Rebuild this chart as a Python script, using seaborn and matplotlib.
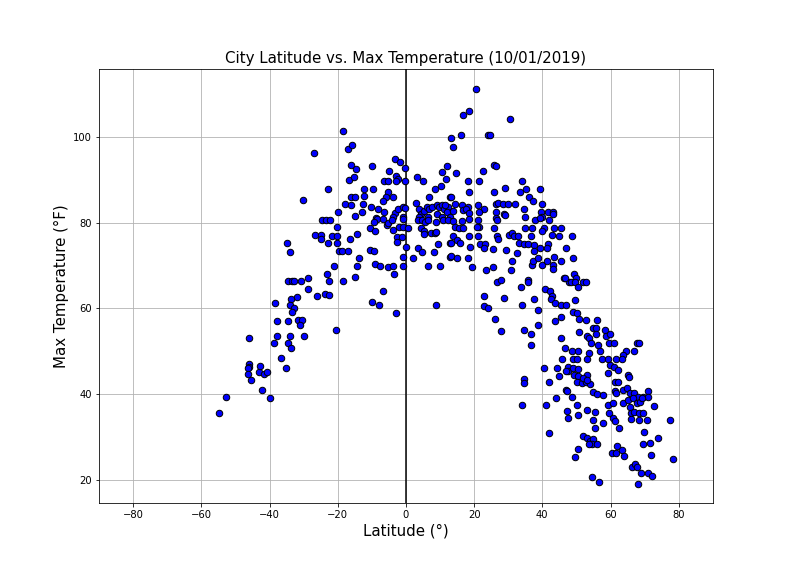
import matplotlib
matplotlib.use("Agg")
import matplotlib.pyplot as plt
import seaborn as sns
import pandas as pd

# (latitude, max temperature °F)
south = [
    (-54.8, 35.6), (-52.7, 39.4),
    (-46.0, 53.1), (-46.0, 47.0), (-46.0, 46.4), (-46.3, 46.1), (-46.3, 44.7), (-45.4, 43.3),
    (-43.1, 45.2), (-42.8, 46.6), (-41.6, 44.7), (-40.7, 45.2), (-42.2, 41.0), (-39.9, 39.1),
    (-38.7, 52.0), (-38.4, 61.3), (-37.8, 57.1), (-37.8, 53.6), (-36.6, 48.5), (-35.2, 46.1),
    (-34.9, 75.3), (-34.0, 73.2), (-34.6, 66.4), (-33.4, 66.4), (-32.8, 66.4), (-30.8, 66.4),
    (-28.7, 67.1), (-28.7, 64.5), (-31.9, 62.7), (-33.7, 62.2), (-26.1, 62.9), (-23.7, 63.4), (-22.6, 63.1),
    (-34.0, 60.8), (-32.8, 60.1), (-33.4, 59.2), (-34.6, 57.1), (-31.6, 57.3), (-30.5, 57.3), (-31.1, 56.2),
    (-34.0, 53.6), (-29.9, 53.6), (-34.6, 52.0), (-33.7, 50.8),
    (-27.0, 96.3), (-22.9, 87.9), (-30.2, 85.3),
    (-24.6, 80.6), (-23.5, 80.6), (-22.3, 80.6),
    (-26.7, 77.1), (-24.9, 77.1), (-24.9, 76.2), (-22.9, 75.3),
    (-23.1, 68.0), (-22.6, 66.4),
    (-18.5, 101.4), (-17.0, 97.2), (-15.8, 98.1), (-16.1, 93.5), (-14.7, 92.5), (-10.0, 93.2),
    (-16.7, 90.0), (-15.2, 90.7),
    (-3.2, 94.9), (-1.8, 94.2), (-0.3, 92.8), (-5.0, 92.1),
    (-2.9, 90.9), (-2.3, 90.2), (-2.9, 89.7), (-6.4, 89.7), (-5.3, 89.7), (-0.3, 89.7),
    (-12.3, 87.9), (-9.7, 87.9), (-5.3, 87.2), (-5.9, 86.0), (-3.8, 86.0), (-12.3, 86.2),
    (-16.1, 86.0), (-14.9, 86.0), (-6.7, 85.1),
    (-17.9, 84.4), (-16.1, 84.1), (-12.6, 84.4), (-10.3, 83.7), (-8.2, 83.2), (-19.9, 82.5),
    (-14.9, 81.6), (-12.9, 82.5), (-8.8, 81.1),
    (-3.2, 82.3), (-2.3, 83.2), (-0.9, 83.7), (-0.3, 83.4), (-6.4, 82.5), (-3.8, 81.3), (-0.9, 81.3),
    (-20.2, 79.0), (-21.7, 76.9), (-20.2, 76.9), (-20.2, 75.3),
    (-19.6, 73.4), (-18.8, 73.4), (-17.0, 73.4), (-16.4, 76.2), (-14.4, 77.4), (-13.8, 71.8),
    (-21.1, 69.9), (-14.4, 69.9), (-14.9, 67.3), (-18.5, 66.4),
    (-10.5, 78.8), (-9.1, 78.1), (-8.5, 80.9), (-9.4, 80.2), (-5.6, 79.5), (-3.8, 78.3),
    (-5.3, 79.9), (-6.7, 80.9), (-4.1, 80.6),
    (-2.0, 79.0), (-0.9, 79.0), (-0.9, 80.9), (-2.6, 76.7), (-1.2, 76.7), (-2.6, 75.5),
    (-10.5, 73.6), (-9.4, 73.4), (-0.9, 72.0), (-9.1, 70.4), (-7.6, 69.9), (-5.3, 69.7),
    (-3.8, 69.9), (-0.9, 69.9), (-3.5, 68.0),
    (-6.7, 64.1), (-10.0, 61.5), (-7.9, 60.8), (-2.9, 58.9), (-20.5, 55.0),
]

north_low = [
    (0.6, 78.8), (0.0, 74.3),
    (3.2, 90.7), (5.0, 89.7), (10.5, 91.8), (12.0, 93.2), (11.7, 90.2),
    (8.5, 87.9), (10.3, 88.6), (12.9, 86.0), (6.7, 86.0),
    (2.9, 84.6), (3.8, 83.2), (4.4, 82.0), (5.3, 82.7), (6.2, 83.7), (6.7, 83.2), (7.6, 83.7),
    (9.1, 84.1), (9.7, 83.7), (10.5, 84.1), (11.1, 83.2), (12.3, 83.7), (12.0, 82.5),
    (6.4, 81.3), (9.1, 82.0), (10.5, 81.3), (3.8, 81.3),
    (20.5, 111.2), (16.7, 105.1), (18.5, 106.1), (30.5, 104.2), (16.1, 100.5), (24.0, 100.5),
    (24.6, 100.5), (13.2, 99.8), (13.8, 97.7),
    (25.8, 93.5), (26.4, 93.2), (22.6, 92.1), (14.7, 91.6),
    (18.2, 89.7), (21.4, 89.7), (34.0, 89.7), (29.0, 88.1), (18.5, 87.2), (25.8, 87.2),
    (33.4, 87.2), (35.2, 87.9), (39.3, 87.9),
    (13.2, 86.0), (36.0, 86.0), (37.2, 85.1),
    (11.4, 84.1), (14.4, 84.4), (16.4, 84.1), (18.2, 83.7), (16.7, 83.0), (17.6, 83.2),
    (18.5, 82.3), (13.8, 82.7),
    (21.1, 84.1), (22.9, 83.2), (21.4, 82.5),
    (26.4, 84.4), (27.0, 84.6), (28.4, 84.4), (29.9, 84.4), (31.9, 84.4), (28.7, 82.0), (26.4, 82.5),
    (34.6, 83.2), (39.9, 84.4), (34.9, 81.3), (26.4, 81.1),
    (41.6, 82.5), (43.1, 82.5), (43.1, 82.0), (39.6, 82.5), (39.9, 81.3),
    (3.5, 80.6), (4.7, 80.6), (5.6, 80.2), (6.4, 80.6), (8.8, 80.2), (10.8, 80.6), (12.9, 81.3),
    (4.4, 78.8), (5.3, 78.1), (5.3, 77.4), (7.3, 77.6), (8.5, 77.6), (8.8, 77.8), (9.4, 75.0),
    (3.5, 74.1), (4.7, 73.2), (2.1, 71.8), (8.2, 73.2), (6.4, 69.9), (10.0, 69.9), (12.9, 72.0),
    (8.8, 60.8), (12.9, 75.3),
    (12.3, 80.6), (13.8, 80.4), (16.4, 80.4), (18.5, 80.9), (21.1, 80.6), (21.4, 79.0),
    (26.7, 80.6), (29.0, 81.8), (37.8, 80.6), (39.3, 81.1), (41.9, 80.6),
    (14.4, 79.0), (15.5, 78.8), (16.7, 78.8), (20.8, 79.0), (25.8, 78.8), (34.9, 78.8),
    (36.9, 78.8), (40.4, 78.8), (43.4, 78.8), (45.4, 78.8),
    (39.9, 78.1), (42.8, 77.1), (44.8, 76.9),
    (13.8, 76.9), (18.5, 76.9), (21.1, 76.9), (26.7, 76.9), (27.0, 76.2), (30.2, 77.1),
    (31.1, 77.6), (31.6, 76.9), (32.8, 76.9), (36.6, 76.9),
    (14.9, 76.0), (13.2, 75.3), (15.8, 75.3),
    (18.8, 74.3), (21.7, 75.0), (23.2, 75.0), (22.9, 74.1), (25.5, 73.9),
    (29.3, 73.6), (33.1, 75.3), (34.6, 75.0), (35.8, 75.0), (37.5, 74.8), (37.5, 73.4),
    (39.3, 74.1), (41.6, 75.0), (41.3, 74.1), (32.5, 72.9),
    (13.2, 72.2), (14.9, 71.8), (18.2, 71.8), (19.3, 69.7), (23.4, 69.0), (25.5, 69.7),
    (30.8, 69.0), (31.1, 71.1),
    (36.9, 70.1), (37.2, 71.1), (38.7, 71.8), (39.9, 70.1), (41.3, 71.1), (43.1, 70.1),
    (43.4, 72.0), (45.4, 71.1), (43.1, 69.2),
    (26.7, 66.2), (27.8, 66.6), (35.8, 66.6), (35.8, 66.2), (33.7, 65.0),
    (40.7, 64.5), (42.2, 64.1), (42.8, 62.9), (42.5, 62.2), (43.7, 61.3), (45.4, 60.8),
    (22.9, 62.9), (28.7, 62.4), (37.5, 62.2), (22.9, 60.6), (24.0, 60.1), (34.0, 60.8),
    (38.7, 59.7), (26.1, 57.6), (43.7, 57.1), (45.4, 58.0), (38.7, 56.2), (27.8, 54.8),
    (34.6, 55.0), (36.6, 54.1), (45.4, 53.1), (36.6, 51.5),
    (45.7, 48.2), (40.4, 46.1), (44.2, 46.1), (34.6, 43.6), (34.6, 42.6), (41.9, 42.9),
    (44.8, 44.3), (44.0, 39.1), (34.0, 37.5), (41.0, 37.5), (41.9, 31.0),
]

north_high = [
    (46.3, 67.1), (47.8, 66.2), (46.9, 60.8), (46.6, 50.8),
    (47.5, 46.4), (47.5, 45.4), (46.9, 45.4), (46.9, 41.0), (47.2, 36.1), (47.5, 34.5),
    (48.6, 76.9), (46.9, 74.1), (48.9, 71.8), (49.2, 68.0), (49.8, 67.1), (46.6, 67.1),
    (48.4, 66.2), (49.5, 66.2), (51.9, 66.2), (52.7, 66.2), (50.4, 65.0),
    (49.5, 62.0), (48.9, 59.2), (50.1, 58.9), (50.7, 57.6), (52.7, 57.3), (56.0, 57.3),
    (54.8, 55.5), (55.7, 55.5), (58.3, 55.0),
    (50.7, 54.5), (53.0, 53.6), (53.6, 53.1), (55.7, 54.1), (58.6, 53.6), (59.8, 54.1),
    (54.2, 52.0), (56.3, 51.5), (59.5, 52.0), (61.0, 52.0), (67.7, 52.0), (68.3, 52.0),
    (48.6, 50.1), (50.4, 50.1), (53.6, 49.6), (56.8, 50.1), (64.5, 50.1), (66.8, 50.1),
    (63.6, 49.2),
    (48.9, 48.2), (50.1, 48.2), (53.0, 48.2), (57.4, 48.2), (59.2, 48.2), (61.5, 48.2), (63.3, 48.2),
    (48.9, 46.1), (50.4, 45.9), (59.8, 46.8), (61.0, 46.4), (62.1, 45.7),
    (49.2, 44.5), (50.4, 44.3), (53.0, 44.5), (59.2, 45.0), (65.0, 44.5), (65.3, 44.0),
    (50.1, 42.9), (51.6, 42.6), (52.7, 42.9), (53.9, 42.4), (51.9, 43.8), (53.0, 43.3),
    (61.2, 42.9), (62.1, 42.9), (61.2, 40.8), (63.6, 41.0), (64.8, 41.5),
    (47.2, 40.8), (54.8, 40.5), (56.0, 40.1), (57.7, 39.8), (61.5, 40.3),
    (65.6, 40.3), (66.8, 40.3), (68.0, 39.4), (69.5, 39.4), (70.9, 40.8), (70.9, 39.4),
    (48.6, 39.4), (59.2, 37.5), (60.7, 38.0), (63.6, 38.0), (65.0, 38.7), (66.5, 39.1),
    (67.7, 38.0), (68.6, 38.2), (69.2, 39.1),
    (72.7, 37.3), (50.1, 37.5), (50.4, 35.2), (53.0, 36.3), (55.4, 35.9),
    (65.6, 37.0), (66.0, 35.6), (66.8, 35.9), (68.3, 35.6), (69.5, 35.6), (68.3, 34.0),
    (70.6, 34.0), (66.0, 34.2),
    (59.5, 35.6), (60.7, 34.5), (61.2, 33.8), (62.4, 32.1), (54.8, 34.0), (55.4, 32.1), (57.7, 33.3),
    (69.7, 31.2), (69.5, 28.4), (71.5, 28.6), (73.8, 29.8), (77.4, 34.0),
    (51.9, 30.3), (53.0, 29.8), (53.9, 29.1), (54.8, 29.6), (54.5, 28.4), (56.0, 28.4), (53.6, 28.4),
    (50.4, 27.2), (49.5, 25.4), (61.8, 27.9), (63.3, 27.0), (63.9, 25.6), (60.4, 26.3), (61.5, 26.3),
    (71.8, 25.8), (78.2, 24.9), (66.2, 23.0), (67.1, 23.7), (67.7, 23.0), (68.9, 21.6),
    (70.9, 21.6), (72.1, 20.9), (54.5, 20.7), (56.6, 19.5), (68.0, 19.1),
]

x_ticks = [-80, -60, -40, -20, 0, 20, 40, 60, 80]
y_ticks = [20, 40, 60, 80, 100]

df = pd.DataFrame(south + north_low + north_high, columns=["Latitude", "Max Temp"])

fig, ax = plt.subplots(figsize=(11, 8), dpi=72)
fig.subplots_adjust(left=0.125, right=0.9, top=0.88, bottom=0.127)
sns.scatterplot(data=df, x="Latitude", y="Max Temp", color="blue",
                edgecolor="black", linewidth=1, s=42, ax=ax, zorder=3)
ax.axvline(0, color="black", linewidth=1.5, zorder=2)
ax.set_xlim(-90, 90)
ax.set_ylim(14.6, 115.9)
ax.set_xticks(x_ticks)
ax.set_yticks(y_ticks)
ax.grid(True)
ax.set_axisbelow(True)
ax.set_title("City Latitude vs. Max Temperature (10/01/2019)", fontsize=15)
ax.set_xlabel("Latitude (°)", fontsize=15)
ax.set_ylabel("Max Temperature (°F)", fontsize=15)
fig.savefig("out.png", dpi=72)
